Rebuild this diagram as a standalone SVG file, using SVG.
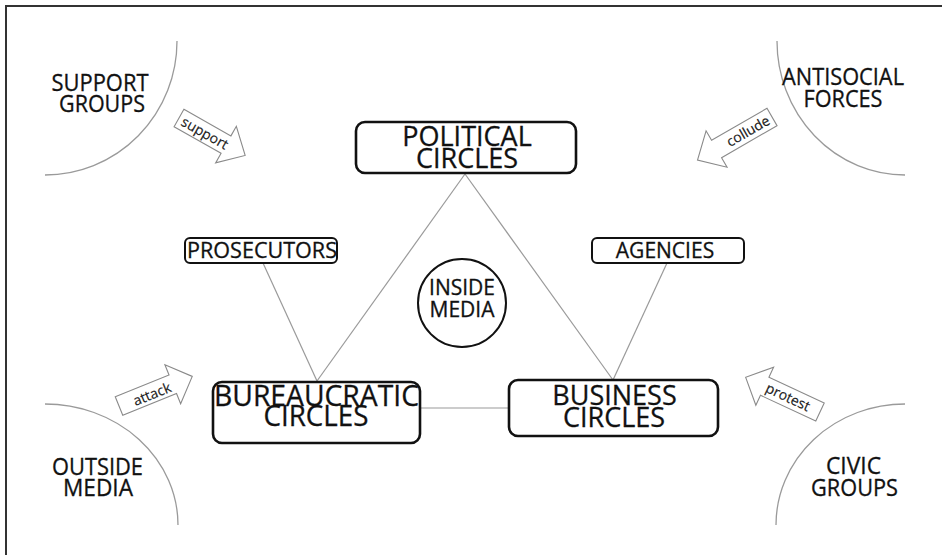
<svg xmlns="http://www.w3.org/2000/svg" width="942" height="555" viewBox="0 0 942 555">
<style>
.bg{fill:#fff}
.frame{stroke:#333;stroke-width:2;fill:none}
.arc{fill:none;stroke:#9a9a9a;stroke-width:1.3}
.conn{stroke:#9a9a9a;stroke-width:1.2;fill:none}
.big{fill:#fff;stroke:#111;stroke-width:2.6}
.small{fill:#fff;stroke:#111;stroke-width:2}
.ring{fill:#fff;stroke:#111;stroke-width:2}
.arrow{fill:#fff;stroke:#8a8a8a;stroke-width:1.1;stroke-linejoin:miter}
text{font-family:"Open Sans","Liberation Sans",sans-serif;fill:#111;text-anchor:middle;font-weight:500;stroke:#111;stroke-width:0.3}
.t27{font-size:27px}
.t29{font-size:29px}
.t21{font-size:21px}
.t23{font-size:23px}
.t14{font-size:14px;fill:#222;stroke-width:0.15}
</style>
<rect class="bg" x="0" y="0" width="942" height="555"/>
<path class="frame" d="M6,555 V6 H942"/>

<g id="connectors">
<line class="conn" x1="465" y1="174" x2="317" y2="381"/>
<line class="conn" x1="465" y1="174" x2="613" y2="380"/>
<line class="conn" x1="263" y1="263" x2="317" y2="381"/>
<line class="conn" x1="667" y1="263" x2="613" y2="380"/>
<line class="conn" x1="420" y1="408" x2="509" y2="408"/>
</g>

<g id="support-groups">
<path class="arc" d="M177,41 A132,134 0 0 1 45,175"/>
<text class="t23"><tspan x="100" y="91" textLength="97" lengthAdjust="spacingAndGlyphs">SUPPORT</tspan><tspan x="102" y="112" textLength="86" lengthAdjust="spacingAndGlyphs">GROUPS</tspan></text>
</g>
<g id="antisocial-forces">
<path class="arc" d="M777,41 A128,134 0 0 0 905,175"/>
<text class="t23"><tspan x="843" y="85" textLength="122" lengthAdjust="spacingAndGlyphs">ANTISOCIAL</tspan><tspan x="843" y="107" textLength="79" lengthAdjust="spacingAndGlyphs">FORCES</tspan></text>
</g>
<g id="outside-media">
<path class="arc" d="M45,404 A133,121 0 0 1 178,525"/>
<text class="t23"><tspan x="97.5" y="475" textLength="91" lengthAdjust="spacingAndGlyphs">OUTSIDE</tspan><tspan x="98" y="496" textLength="70" lengthAdjust="spacingAndGlyphs">MEDIA</tspan></text>
</g>
<g id="civic-groups">
<path class="arc" d="M905,404 A129,121 0 0 0 776,525"/>
<text class="t23"><tspan x="853.5" y="474" textLength="55" lengthAdjust="spacingAndGlyphs">CIVIC</tspan><tspan x="854.5" y="496" textLength="87" lengthAdjust="spacingAndGlyphs">GROUPS</tspan></text>
</g>

<g id="arrow-support">
<path class="arrow" transform="translate(179,118) rotate(29.5)" d="M0,-10 H54 V-21 L76,0 L54,21 V10 H0 Z"/>
<text class="t14" transform="translate(205,133) rotate(29.5)" y="5">support</text>
</g>
<g id="arrow-collude">
<path class="arrow" transform="translate(772,117) rotate(150)" d="M0,-10 H64 V-21 L86,0 L64,21 V10 H0 Z"/>
<text class="t14" transform="translate(748,131) rotate(-30)" y="5">collude</text>
</g>
<g id="arrow-attack">
<path class="arrow" transform="translate(119,406) rotate(-22)" d="M0,-10 H58 V-21 L79,0 L58,21 V10 H0 Z"/>
<text class="t14" transform="translate(152,394) rotate(-22)" y="5">attack</text>
</g>
<g id="arrow-protest">
<path class="arrow" transform="translate(820,412) rotate(205)" d="M0,-10 H61 V-21 L82,0 L61,21 V10 H0 Z"/>
<text class="t14" transform="translate(788,397) rotate(25)" y="5">protest</text>
</g>

<g id="political-circles">
<rect class="big" x="356" y="122" width="220" height="51" rx="9"/>
<text class="t27"><tspan x="467" y="146">POLITICAL</tspan><tspan x="467" y="168">CIRCLES</tspan></text>
</g>
<g id="bureaucratic-circles">
<rect class="big" x="213" y="382" width="207" height="61" rx="9"/>
<text class="t29"><tspan x="316.5" y="406" textLength="205" lengthAdjust="spacingAndGlyphs">BUREAUCRATIC</tspan><tspan x="316" y="426" textLength="105" lengthAdjust="spacingAndGlyphs">CIRCLES</tspan></text>
</g>
<g id="business-circles">
<rect class="big" x="509" y="380" width="209" height="56" rx="9"/>
<text class="t27"><tspan x="614.5" y="405">BUSINESS</tspan><tspan x="614" y="427">CIRCLES</tspan></text>
</g>
<g id="prosecutors">
<rect class="small" x="185" y="238" width="152" height="25" rx="5"/>
<text class="t21" x="262" y="258" textLength="150" lengthAdjust="spacingAndGlyphs">PROSECUTORS</text>
</g>
<g id="agencies">
<rect class="small" x="592" y="238" width="152" height="25" rx="5"/>
<text class="t21" x="665" y="258">AGENCIES</text>
</g>
<g id="inside-media">
<circle class="ring" cx="462" cy="303" r="44"/>
<text class="t21"><tspan x="462" y="295">INSIDE</tspan><tspan x="462" y="317">MEDIA</tspan></text>
</g>
</svg>
